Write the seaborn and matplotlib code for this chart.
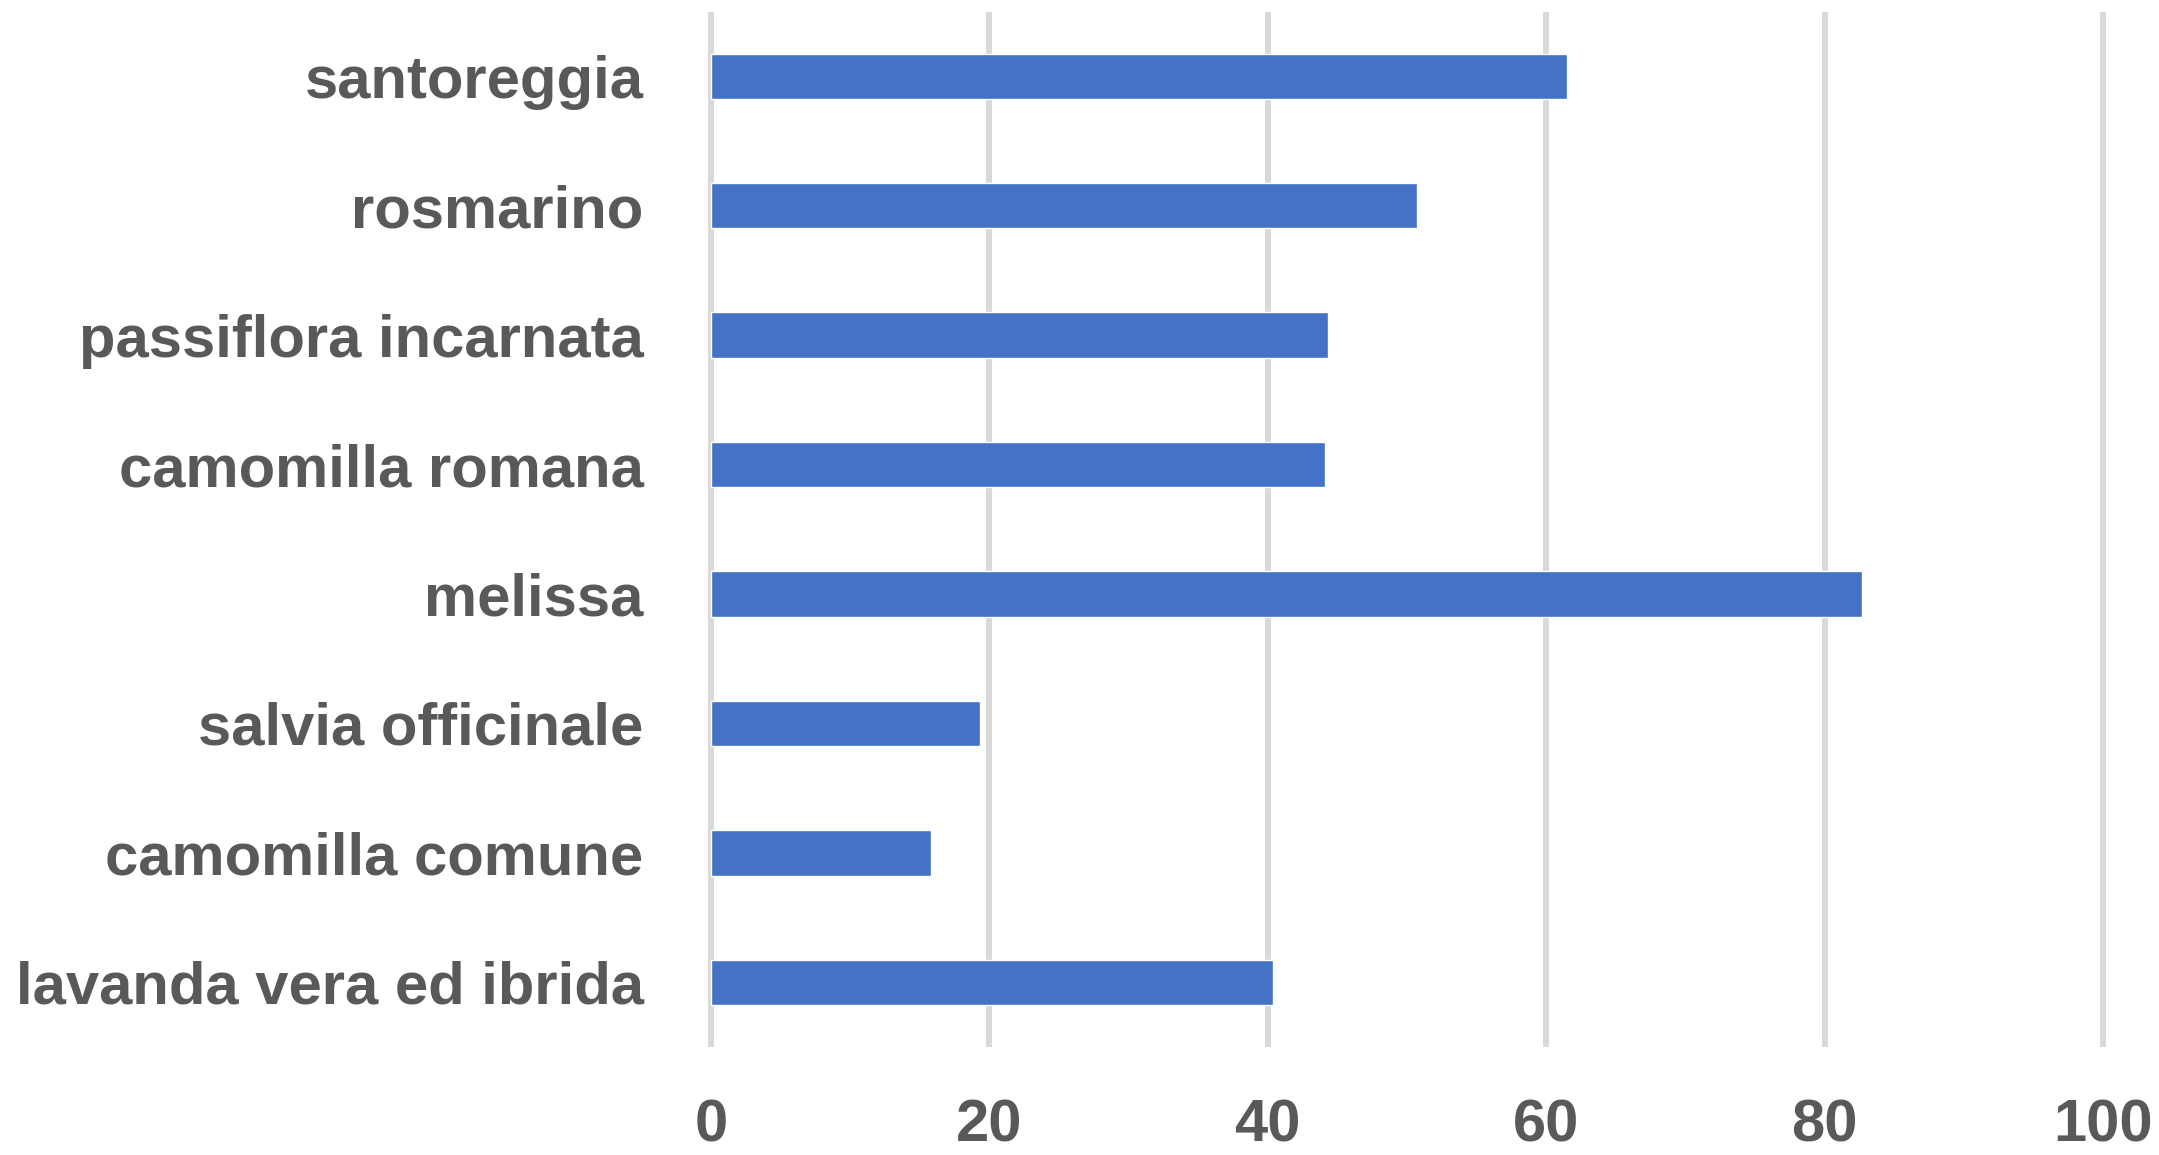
import matplotlib
matplotlib.use("Agg")
import matplotlib.pyplot as plt
import seaborn as sns
import pandas as pd

# values (top to bottom)
piante = ["santoreggia", "rosmarino", "passiflora incarnata", "camomilla romana",
          "melissa", "salvia officinale", "camomilla comune", "lavanda vera ed ibrida"]
valori = [61.5, 50.7, 44.3, 44.1, 82.7, 19.3, 15.8, 40.4]
x_ticks = [0, 20, 40, 60, 80, 100]

df = pd.DataFrame({"pianta": piante, "valore": valori})

sns.set_style("white")
plt.rcParams["font.family"] = ["Liberation Sans Narrow", "Liberation Sans", "DejaVu Sans"]

fig = plt.figure(figsize=(21.59, 11.55), dpi=100)
ax = fig.add_axes([0.3277, 0.0935, 0.648, 0.8965])

sns.barplot(data=df, x="valore", y="pianta", orient="h", color="#4472C4",
            saturation=1, width=0.35, ax=ax, zorder=3)

ax.set_xlim(-0.25, 100.25)
ax.set_xticks(x_ticks)
ax.grid(axis="x", color="#D9D9D9", linewidth=4.3, zorder=0)
ax.grid(axis="y", visible=False)
ax.set_axisbelow(True)
for s in ax.spines.values():
    s.set_visible(False)

ax.set_xlabel("")
ax.set_ylabel("")
ax.tick_params(axis="y", length=0, pad=46, labelsize=43, labelcolor="#595959")
ax.tick_params(axis="x", length=0, pad=37, labelsize=43, labelcolor="#595959")
for lab in ax.get_xticklabels() + ax.get_yticklabels():
    lab.set_fontweight("bold")

fig.savefig("out.png", dpi=100, facecolor="white")
